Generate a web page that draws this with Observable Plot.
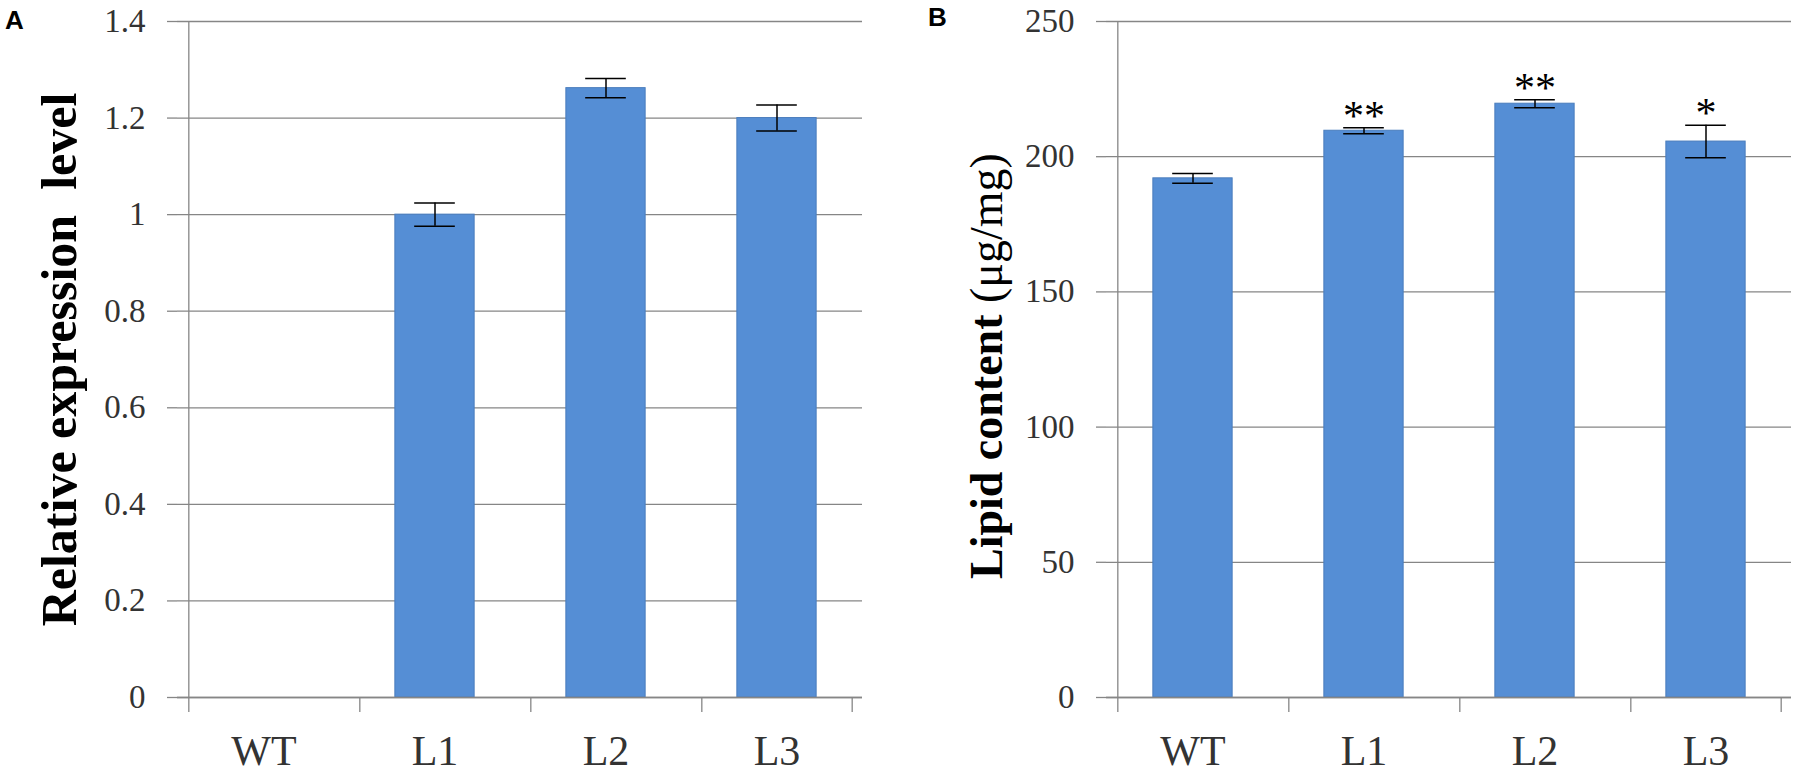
<!DOCTYPE html>
<html>
<head>
<meta charset="utf-8">
<script src="https://cdn.jsdelivr.net/npm/d3@7"></script>
<script src="https://cdn.jsdelivr.net/npm/@observablehq/plot@0.6"></script>
<style>
  body { margin: 0; background: #fff; }
  #wrap { position: relative; width: 1800px; height: 778px; display: flex; }
  .letter { position: absolute; font-family: "Liberation Sans", Arial, sans-serif; font-weight: bold; font-size: 26px; line-height: 1; color: #000; }
</style>
</head>
<body>
<div id="wrap">
  <div class="letter" style="left:5px;top:7px">A</div>
  <div class="letter" style="left:928px;top:4px">B</div>
</div>
<script>
// ---- data ----
const categories = ["WT", "L1", "L2", "L3"];
const expressionValues = [0, 1.0, 1.262, 1.2];
const expressionErrors = [0, 0.024, 0.02, 0.027];
const expressionTicks = [0, 0.2, 0.4, 0.6, 0.8, 1, 1.2, 1.4];
const expressionTickLabels = ["0", "0.2", "0.4", "0.6", "0.8", "1", "1.2", "1.4"];
const lipidValues = [192, 209.6, 219.6, 205.6];
const lipidErrors = [1.8, 1.1, 1.5, 6];
const lipidTicks = [0, 50, 100, 150, 200, 250];
const lipidTickLabels = ["0", "50", "100", "150", "200", "250"];
const lipidSignificance = ["", "**", "**", "*"];

const serif = "'Liberation Serif','Times New Roman',serif";
const gray = "#868686";
const barFill = "#558ed5";
const barStroke = "#4a7dbd";

function panel({values, errors, ticks, tickLabels, domain, stars, titleBold, titleRegular, titleSize, titleDy, width, marginLeft, marginRight}) {
  const height = 778, marginTop = 21, marginBottom = 81;
  const data = categories.map((c, i) => ({cat: c, v: values[i], e: errors[i], star: stars ? stars[i] : ""}));
  const xs = Plot.scale({x: {type: "band", domain: categories, range: [marginLeft, width - marginRight]}});
  const bw = xs.bandwidth;
  const capW = 20;
  const labelMap = new Map(ticks.map((t, i) => [t, tickLabels[i]]));
  const marks = [
    Plot.gridY(ticks, {stroke: gray, strokeOpacity: 1, strokeWidth: 1.3}),
    Plot.axisY(ticks, {tickSize: 10, tickPadding: 22, stroke: gray, strokeOpacity: 1, strokeWidth: 1.3,
      fontSize: 33, fill: "#333", tickFormat: d => labelMap.get(d), label: null}),
    Plot.axisX(categories, {tickSize: 0, tickPadding: 38, fontSize: 42, fill: "#333", label: null}),
    Plot.axisX(categories, {tickSize: 15, tickFormat: () => "", dx: -bw / 2, stroke: gray, strokeOpacity: 1, strokeWidth: 1.3, label: null}),
    Plot.axisX([categories[categories.length - 1]], {tickSize: 15, tickFormat: () => "", dx: bw / 2, stroke: gray, strokeOpacity: 1, strokeWidth: 1.3, label: null}),
    Plot.ruleX([categories[0]], {dx: -bw / 2, stroke: gray, strokeWidth: 1.3}),
    Plot.barY(data.filter(d => d.v > 0), {x: "cat", y: "v", fill: barFill, stroke: barStroke, strokeWidth: 1,
      insetLeft: bw * 0.305, insetRight: bw * 0.305}),
    Plot.ruleY([0], {stroke: gray, strokeWidth: 1.3}),
    Plot.ruleX(data.filter(d => d.e > 0), {x: "cat", y1: d => d.v - d.e, y2: d => d.v + d.e, stroke: "#000", strokeWidth: 1.5}),
    Plot.tickY(data.filter(d => d.e > 0), {x: "cat", y: d => d.v + d.e, stroke: "#000", strokeWidth: 1.5,
      insetLeft: (bw - capW) / 2, insetRight: (bw - capW) / 2}),
    Plot.tickY(data.filter(d => d.e > 0), {x: "cat", y: d => d.v - d.e, stroke: "#000", strokeWidth: 1.5,
      insetLeft: (bw - capW) / 2, insetRight: (bw - capW) / 2})
  ];
  if (stars) {
    marks.push(Plot.text(data.filter(d => d.star), {x: "cat", y: d => d.v + d.e, text: "star", lineAnchor: "bottom",
      dy: 2, fontSize: 42, fill: "#000"}));
  }
  if (titleRegular) {
    marks.push(Plot.text([titleBold], {frameAnchor: "left", rotate: -90, dx: -119, dy: titleDy, textAnchor: "end",
      lineAnchor: "middle", fontSize: titleSize, fontWeight: "bold", fill: "#000"}));
    marks.push(Plot.text([titleRegular], {frameAnchor: "left", rotate: -90, dx: -119, dy: titleDy, textAnchor: "start",
      lineAnchor: "middle", fontSize: titleSize, fill: "#000"}));
  } else {
    marks.push(Plot.text([titleBold], {frameAnchor: "left", rotate: -90, dx: -118, dy: titleDy, textAnchor: "middle",
      lineAnchor: "middle", fontSize: titleSize, fontWeight: "bold", fill: "#000"}));
  }
  return Plot.plot({
    width, height, marginTop, marginBottom, marginLeft, marginRight,
    style: {fontFamily: serif, background: "#fff", overflow: "visible"},
    x: {type: "band", domain: categories, padding: 0, label: null},
    y: {domain, label: null},
    marks
  });
}

const wrap = document.getElementById("wrap");
wrap.appendChild(panel({
  values: expressionValues, errors: expressionErrors, ticks: expressionTicks, tickLabels: expressionTickLabels,
  domain: [0, 1.4], titleBold: "Relative expression  level", titleSize: 50, titleDy: 0,
  width: 900, marginLeft: 177, marginRight: 38
}));
wrap.appendChild(panel({
  values: lipidValues, errors: lipidErrors, ticks: lipidTicks, tickLabels: lipidTickLabels,
  domain: [0, 250], stars: lipidSignificance, titleBold: "Lipid content", titleRegular: "\u00a0(\u03bcg/mg)",
  titleSize: 46, titleDy: -45,
  width: 900, marginLeft: 206, marginRight: 9
}));
</script>
</body>
</html>
